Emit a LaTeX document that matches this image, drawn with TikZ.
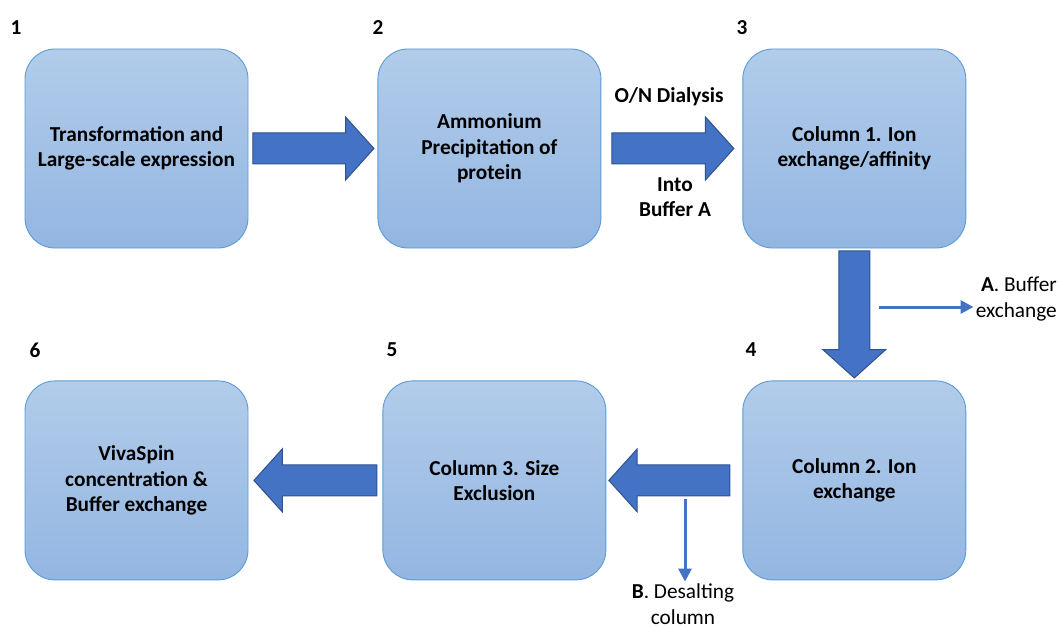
\documentclass[tikz,border=0pt]{standalone}
\usepackage{fontspec}
\setmainfont{Carlito}
\usetikzlibrary{arrows.meta, positioning, calc, shapes.arrows}
\definecolor{boxtop}{HTML}{B2CCEA}
\definecolor{boxbot}{HTML}{93B6E2}
\definecolor{boxline}{HTML}{5B9BD5}
\definecolor{arrfill}{HTML}{4472C4}
\definecolor{arrline}{HTML}{2F528F}
\newcommand{\bigfont}{\fontsize{21.3}{25.5}\selectfont}

\tikzset{
  stepbox/.style={draw=boxline, line width=0.9pt, rounded corners=30pt,
    top color=boxtop, bottom color=boxbot, minimum width=223pt,
    minimum height=199pt, align=center, inner sep=0pt,
    font=\bfseries\bigfont},
  blockarrow/.style={single arrow, draw=arrline, fill=arrfill,
    line width=1pt, inner xsep=0pt, inner ysep=15pt, anchor=tail,
    single arrow head extend=16pt, single arrow tip angle=96},
  steplabel/.style={font=\bfseries\bigfont, inner sep=0pt},
  sidelabel/.style={font=\bigfont, inner sep=2pt},
  thinarrow/.style={arrfill, line width=3pt, -{Triangle[length=13pt,width=13pt]}}
}

\begin{document}
\begin{tikzpicture}[x=1pt, y=-1pt]
  \useasboundingbox (0,0) rectangle (1059,628);

  % process steps
  \node[stepbox] (t1) at (136.5,148.5) {Transformation and\\Large-scale expression};
  \node[stepbox, right=129pt of t1] (t2) {Ammonium\\Precipitation of\\protein};
  \node[stepbox, right=141pt of t2] (t3) {Column 1. Ion\\exchange/affinity};
  \node[stepbox, below=132pt of t3] (t4) {Column 2. Ion\\exchange};
  \node[stepbox, left=136pt of t4] (t5) {Column 3. Size\\Exclusion};
  \node[stepbox, left=134pt of t5] (t6) {VivaSpin\\concentration \&\\Buffer exchange};

  % step numbers
  \node[steplabel] (n1) at (16,28) {1};
  \node[steplabel] (n2) at (378,28) {2};
  \node[steplabel] (n3) at (742,28) {3};
  \node[steplabel] (n4) at (751,350) {4};
  \node[steplabel] (n5) at (392,350) {5};
  \node[steplabel] (n6) at (35,350) {6};

  % big arrows between steps
  \node[blockarrow, minimum height=121pt] (a12) at ([xshift=4pt]t1.east) {};
  \node[blockarrow, minimum height=122pt] (a23) at ([xshift=10pt]t2.east) {};
  \node[blockarrow, minimum height=127pt, rotate=-90] (a34) at ([yshift=-2pt]t3.south) {};
  \node[blockarrow, minimum height=121pt, rotate=180] (a45) at ([xshift=-12pt]t4.west) {};
  \node[blockarrow, minimum height=123pt, rotate=180] (a56) at ([xshift=-5pt]t5.west) {};

  \node[steplabel] (dial) at (669,97) {O/N Dialysis};
  \node[steplabel, align=center] (into) at (675,197) {Into\\Buffer A};

  % side branches
  \node[sidelabel, align=right, anchor=east] (labA) at (1059,299) {\textbf{A}. Buffer\\exchange};
  \node[sidelabel, align=center] (labB) at (683,604) {\textbf{B}. Desalting\\column};
  \coordinate (aStart) at (879,307);
  \coordinate (bStart) at (685,499);
  \draw[thinarrow] (aStart) -- (aStart -| labA.west);
  \draw[thinarrow] (bStart) -- (bStart |- labB.north);
\end{tikzpicture}
\end{document}
